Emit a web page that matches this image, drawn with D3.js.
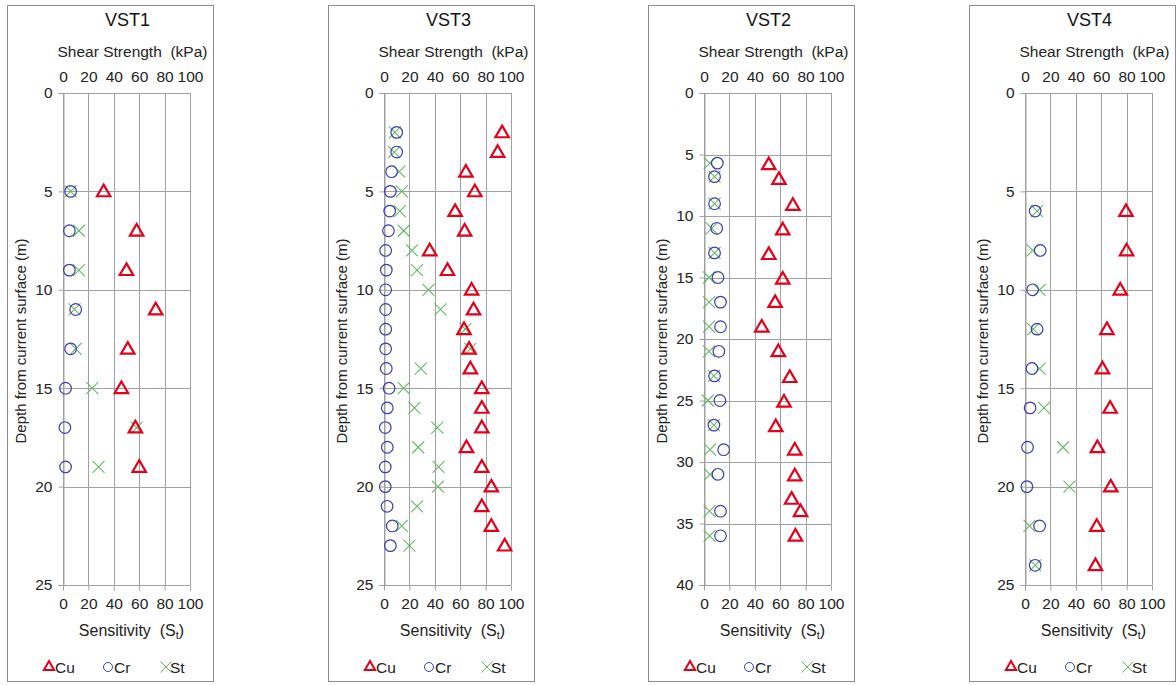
<!DOCTYPE html>
<html><head><meta charset="utf-8">
<script src="https://cdn.jsdelivr.net/npm/d3@7"></script>
<style>body{margin:0;background:#fff;} svg{display:block;font-family:"Liberation Sans",Arial,sans-serif;}</style>
</head><body>
<script>
// ---- data ----
const panelTitles = ["VST1", "VST3", "VST2", "VST4"];
const depthMax = [25, 25, 40, 25];
const depthTicks = [[0,5,10,15,20,25],[0,5,10,15,20,25],[0,5,10,15,20,25,30,35,40],[0,5,10,15,20,25]];
const xTicks = [0, 20, 40, 60, 80, 100];

// VST1
const vst1Depth = [5, 7, 9, 11, 13, 15, 17, 19];
const vst1Cu = [32, 58, 50, 73, 51, 46, 57, 60];
const vst1Cr = [6, 5, 5, 10, 6, 2, 1.5, 2];
const vst1St = [6, 12.5, 12.5, 9, 10, 23, 58, 28];
// VST3
const vst3Depth = [2,3,4,5,6,7,8,9,10,11,12,13,14,15,16,17,18,19,20,21,22,23];
const vst3Cu = [93,89.5,64.5,71.5,56,63.5,36,50,69,70.5,63,67,68,77,77,77,65,77,84.5,77,84.5,95];
const vst3Cr = [10,10,6,5,4.5,3.5,1.3,1.8,1.3,1.3,1.3,1.3,1.8,4,2.6,1,2.6,1,1,2.4,6.5,5];
const vst3St = [8.5,8,12,14,12.5,15.5,22,26,35,44.5,64,68,29,15.5,24,42,27,43,42.5,26,14,20];
// VST2
const vst2CuDepth = [5.8,7,9.1,11.1,13.1,15.1,17,19,21,23.1,25.1,27.1,29,31.1,33,34,36];
const vst2Cu = [51,59,70,62,51,62,56,45.5,58.5,67.5,63,56.5,71.5,71.5,69,76,72];
const vst2Depth = [5.7,6.8,9,11,13,15,17,19,21,23,25,27,29,31,34,36];
const vst2Cr = [10.5,8.3,8.3,10,8.3,11,13,13,11.7,8.3,12.5,7.8,15.5,11,13,13];
const vst2St = [4.5,8.3,8.3,6,8.3,4,4,4,4,7.8,3,7.8,4.7,4.7,4.4,4.4];
// VST4
const vst4Depth = [6, 8, 10, 12, 14, 16, 18, 20, 22, 24];
const vst4Cu = [79.5, 80, 75, 64.5, 61, 67, 57, 67.5, 56.5, 55.5];
const vst4Cr = [8, 12, 6, 9.5, 5.5, 4, 2, 1.5, 11.5, 8];
const vst4St = [9.5, 6, 11.5, 6.5, 11.5, 15, 30, 35, 3.5, 8];

const panels = [
  {cu: vst1Cu, cuD: vst1Depth, cr: vst1Cr, st: vst1St, d: vst1Depth},
  {cu: vst3Cu, cuD: vst3Depth, cr: vst3Cr, st: vst3St, d: vst3Depth},
  {cu: vst2Cu, cuD: vst2CuDepth, cr: vst2Cr, st: vst2St, d: vst2Depth},
  {cu: vst4Cu, cuD: vst4Depth, cr: vst4Cr, st: vst4St, d: vst4Depth}
];

// ---- layout ----
const W = 1176, H = 685;
const boxLeft = [7, 328, 648, 969];
const boxW = 206;
const plotOff = 56, plotW = 127;
const yTop = 93, yBot = 585;
const cuColor = "#e3001b", crColor = "#3d3da8", stColor = "#66b866";
const gridColor = "#a0a0a0";
const FONT = '"Liberation Sans",Arial,sans-serif';

const svg = d3.select("body").append("svg").attr("width", W).attr("height", H);

panels.forEach((p, i) => {
  const bx = boxLeft[i];
  const x0 = bx + plotOff;
  const x = d3.scaleLinear().domain([0, 100]).range([x0, x0 + plotW]);
  const y = d3.scaleLinear().domain([0, depthMax[i]]).range([yTop, yBot]);
  const g = svg.append("g");

  g.append("rect").attr("x", bx + 0.5).attr("y", 5.5).attr("width", boxW).attr("height", 676)
    .attr("fill", "none").attr("stroke", "#8c8c8c").attr("stroke-width", 1);

  // grid
  g.append("g").selectAll("line").data(xTicks).join("line")
    .attr("x1", d => Math.round(x(d)) + 0.5).attr("x2", d => Math.round(x(d)) + 0.5)
    .attr("y1", yTop).attr("y2", yBot).attr("stroke", gridColor);
  g.append("g").selectAll("line").data(depthTicks[i]).join("line")
    .attr("x1", x(0)).attr("x2", x(100))
    .attr("y1", d => Math.round(y(d)) + 0.5).attr("y2", d => Math.round(y(d)) + 0.5).attr("stroke", gridColor);

  // axes
  const yAxis = d3.axisLeft(y).tickValues(depthTicks[i]).tickSize(5).tickPadding(6);
  const ya = g.append("g").attr("transform", `translate(${Math.round(x(0)) + 0.5},0)`).call(yAxis);
  const xTop = d3.axisTop(x).tickValues(xTicks).tickSize(0).tickPadding(11);
  const xa1 = g.append("g").attr("transform", `translate(0,${yTop})`).call(xTop);
  const xBot = d3.axisBottom(x).tickValues(xTicks).tickSize(5).tickPadding(7);
  const xa2 = g.append("g").attr("transform", `translate(0,${Math.round(yBot) + 0.5})`).call(xBot);
  [ya, xa1, xa2].forEach(a => {
    a.selectAll(".domain").attr("stroke", gridColor);
    a.selectAll(".tick line").attr("stroke", gridColor);
    a.selectAll("text").attr("font-size", 15.5).attr("fill", "#222").attr("font-family", FONT);
  });
  xa1.select(".domain").remove();
  xa2.select(".domain").remove();

  // titles
  const cx = (x(0) + x(100)) / 2;
  g.append("text").attr("x", cx + 1).attr("y", 26).attr("text-anchor", "middle")
    .attr("font-size", 18).attr("fill", "#111").text(panelTitles[i]);
  g.append("text").attr("x", cx + 6).attr("y", 57).attr("text-anchor", "middle")
    .attr("font-size", 15.5).attr("fill", "#222").attr("xml:space", "preserve").text("Shear Strength  (kPa)");
  const sl = g.append("text").attr("x", cx + 5).attr("y", 636).attr("text-anchor", "middle")
    .attr("font-size", 16).attr("fill", "#222").attr("xml:space", "preserve");
  sl.append("tspan").text("Sensitivity  (S");
  sl.append("tspan").attr("font-size", 11).attr("dy", 3).text("t");
  sl.append("tspan").attr("dy", -3).text(")");
  g.append("text").attr("transform", `translate(${bx + 19},${(yTop + yBot) / 2 + 2}) rotate(-90)`)
    .attr("text-anchor", "middle").attr("font-size", 15).attr("fill", "#222")
    .text("Depth from current surface (m)");

  // markers
  const tri = d3.symbol().type(d3.symbolTriangle).size(78);
  g.append("g").selectAll("path").data(p.st.map((v, k) => [v, p.d[k]])).join("path")
    .attr("d", "M-6,-6L6,6M-6,6L6,-6")
    .attr("transform", d => `translate(${x(d[0])},${y(d[1])})`)
    .attr("fill", "none").attr("stroke", stColor).attr("stroke-width", 1.1);
  g.append("g").selectAll("circle").data(p.cr.map((v, k) => [v, p.d[k]])).join("circle")
    .attr("cx", d => x(d[0])).attr("cy", d => y(d[1])).attr("r", 5.8)
    .attr("fill", "none").attr("stroke", crColor).attr("stroke-width", 1.2);
  g.append("g").selectAll("path").data(p.cu.map((v, k) => [v, p.cuD[k]])).join("path")
    .attr("d", tri)
    .attr("transform", d => `translate(${x(d[0])},${y(d[1]) + 1})`)
    .attr("fill", "none").attr("stroke", cuColor).attr("stroke-width", 2.2).attr("stroke-linejoin", "miter");

  // legend
  const ly = 667;
  const lg = g.append("g");
  lg.append("path").attr("d", d3.symbol().type(d3.symbolTriangle).size(45))
    .attr("transform", `translate(${bx + 42},${ly})`)
    .attr("fill", "none").attr("stroke", cuColor).attr("stroke-width", 2);
  lg.append("text").attr("x", bx + 48).attr("y", ly + 6).attr("font-size", 15.5).attr("fill", "#222").text("Cu");
  lg.append("circle").attr("cx", bx + 101).attr("cy", ly).attr("r", 4.5)
    .attr("fill", "none").attr("stroke", crColor).attr("stroke-width", 1);
  lg.append("text").attr("x", bx + 107).attr("y", ly + 6).attr("font-size", 15.5).attr("fill", "#222").text("Cr");
  lg.append("path").attr("d", "M-5.5,-5.5L5.5,5.5M-5.5,5.5L5.5,-5.5")
    .attr("transform", `translate(${bx + 159},${ly})`)
    .attr("fill", "none").attr("stroke", stColor).attr("stroke-width", 1);
  lg.append("text").attr("x", bx + 163).attr("y", ly + 6).attr("font-size", 15.5).attr("fill", "#222").text("St");
});
</script>
</body></html>
